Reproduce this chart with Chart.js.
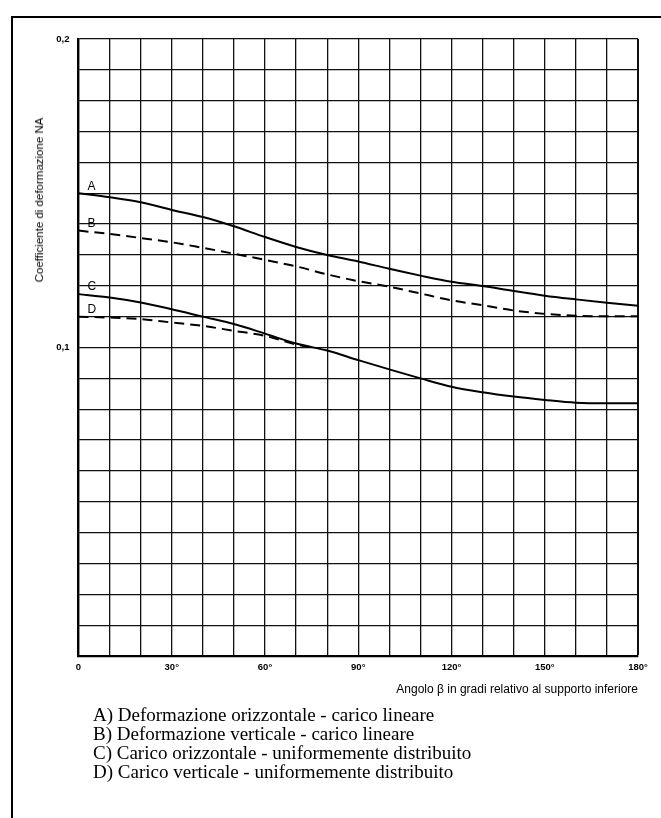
<!DOCTYPE html>
<html>
<head>
<meta charset="utf-8">
<script src="https://cdn.jsdelivr.net/npm/chart.js@4.4.1/dist/chart.umd.min.js"></script>
<style>
  html, body { margin:0; padding:0; background:#fff; }
  body { width:661px; height:818px; position:relative; overflow:hidden; }
  #c { position:absolute; left:0; top:0; }
  .frameTop { position:absolute; left:11px; top:16px; width:650px; height:2px; background:#000; }
  .frameLeft { position:absolute; left:11px; top:16px; width:2px; height:802px; background:#000; }
  .ytitle { position:absolute; left:39px; top:200px; transform:translate(-50%,-50%) rotate(-90deg);
    font-family:"Liberation Sans", Arial, sans-serif; font-size:11.5px; white-space:nowrap; color:#000; }
  .xtitle { position:absolute; right:23px; top:682px; font-family:"Liberation Sans", Arial, sans-serif;
    font-size:12px; white-space:nowrap; color:#000; }
  .legend { position:absolute; left:93px; top:705px; font-family:"Liberation Serif", "Times New Roman", serif;
    font-size:19px; line-height:19px; color:#000; }
</style>
</head>
<body>
<div class="frameTop"></div>
<div class="frameLeft"></div>
<canvas id="c" width="661" height="818"></canvas>
<div class="ytitle">Coefficiente di deformazione NA</div>
<div class="xtitle">Angolo β in gradi relativo al supporto inferiore</div>
<div class="legend" id="legend"></div>
<script>
// ---- data ----
const curveNames = ["A", "B", "C", "D"];
const legendLines = [
  "A) Deformazione orizzontale - carico lineare",
  "B) Deformazione verticale - carico lineare",
  "C) Carico orizzontale - uniformemente distribuito",
  "D) Carico verticale - uniformemente distribuito"
];
const anglesFull = [0,10,20,30,40,50,60,70,80,90,100,110,120,130,140,150,160,170,180];
const valuesA = [0.1500,0.1487,0.1471,0.1446,0.1423,0.1393,0.1358,0.1326,0.1300,0.1279,0.1255,0.1233,0.1213,0.1199,0.1183,0.1168,0.1156,0.1145,0.1135];
const valuesB = [0.1379,0.1368,0.1355,0.1341,0.1323,0.1304,0.1284,0.1263,0.1237,0.1215,0.1197,0.1175,0.1153,0.1137,0.1120,0.1109,0.1103,0.1101,0.1101];
const valuesC = [0.1173,0.1162,0.1146,0.1124,0.1100,0.1076,0.1045,0.1013,0.0990,0.0959,0.0929,0.0900,0.0873,0.0855,0.0841,0.0830,0.0821,0.0819,0.0819];
const anglesD = [0,10,20,30,40,50,60,70,76];
const valuesD = [0.1100,0.1097,0.1092,0.1081,0.1070,0.1054,0.1038,0.1010,0.0999];
const xTickLabels = {0:"0",30:"30°",60:"60°",90:"90°",120:"120°",150:"150°",180:"180°"};
const yTickLabels = {"0.1":"0,1","0.2":"0,2"};

document.getElementById('legend').innerHTML = legendLines.map(s => '<div>' + s + '</div>').join('');

function pts(xs, ys) { return xs.map((x, i) => ({x: x, y: ys[i]})); }

const seriesDefs = [
  {name: curveNames[0], data: pts(anglesFull, valuesA), dash: []},
  {name: curveNames[1], data: pts(anglesFull, valuesB), dash: [10, 6]},
  {name: curveNames[2], data: pts(anglesFull, valuesC), dash: []},
  {name: curveNames[3], data: pts(anglesD, valuesD), dash: [10, 6]}
];

const curveLabels = {
  id: 'curveLabels',
  afterDatasetsDraw(chart) {
    const ctx = chart.ctx;
    const xs = chart.scales.x, ys = chart.scales.y;
    ctx.save();
    ctx.fillStyle = '#000';
    ctx.font = '12px "Liberation Sans", Arial, sans-serif';
    ctx.textAlign = 'left';
    ctx.textBaseline = 'bottom';
    chart.data.datasets.forEach(ds => {
      const p = ds.data[0];
      ctx.fillText(ds.label, xs.getPixelForValue(p.x) + 9, ys.getPixelForValue(p.y) - 1);
    });
    ctx.restore();
  }
};

new Chart(document.getElementById('c'), {
  type: 'line',
  data: {
    datasets: seriesDefs.map(s => ({
      label: s.name,
      data: s.data,
      borderColor: '#000',
      borderWidth: 2,
      borderDash: s.dash,
      pointRadius: 0,
      fill: false,
      cubicInterpolationMode: 'monotone'
    }))
  },
  options: {
    responsive: false,
    animation: false,
    devicePixelRatio: 1,
    layout: { padding: { left: 0, top: 39, right: 23, bottom: 132 } },
    plugins: { legend: { display: false }, tooltip: { enabled: false } },
    scales: {
      x: {
        type: 'linear', min: 0, max: 180,
        afterFit(axis) { axis.height = 30; },
        ticks: {
          stepSize: 10, autoSkip: false, maxRotation: 0, padding: 6,
          color: '#000',
          font: { family: '"Liberation Sans", Arial, sans-serif', size: 9.5, weight: 'bold' },
          callback: v => xTickLabels[v] !== undefined ? xTickLabels[v] : ''
        },
        grid: {
          color: '#111',
          lineWidth: c => (c.tick && (c.tick.value === 180)) ? 2 : 1.3,
          drawTicks: false
        },
        border: { display: true, color: '#000', width: 2.2 }
      },
      y: {
        type: 'linear', min: 0, max: 0.2,
        afterFit(axis) { axis.width = 78.5; },
        ticks: {
          stepSize: 0.01, autoSkip: false, padding: 9,
          color: '#000',
          font: { family: '"Liberation Sans", Arial, sans-serif', size: 9.5, weight: 'bold' },
          callback: v => {
            const k = (Math.round(v * 100) / 100).toString();
            return yTickLabels[k] !== undefined ? yTickLabels[k] : '';
          }
        },
        grid: {
          color: '#111',
          lineWidth: 1.3,
          drawTicks: false
        },
        border: { display: true, color: '#000', width: 2.2 }
      }
    }
  },
  plugins: [curveLabels]
});
</script>
</body>
</html>
